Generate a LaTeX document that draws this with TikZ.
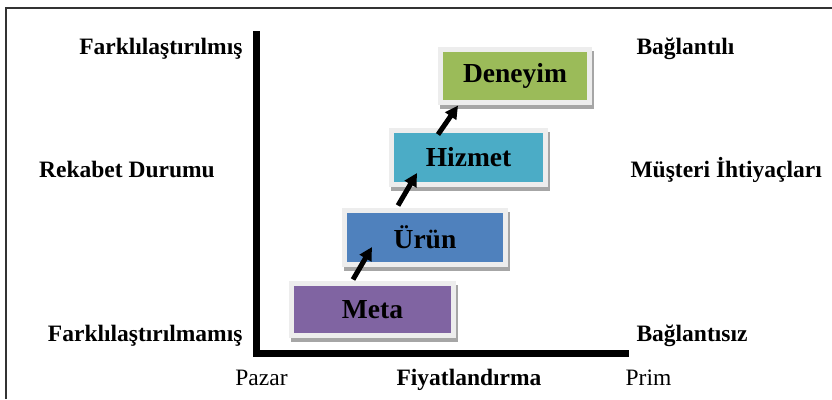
\documentclass[tikz,border=0pt]{standalone}
\usepackage{fontspec}
\setmainfont{Liberation Serif}
\usepackage{tikz}
\usetikzlibrary{positioning}
\usetikzlibrary{shadows}
\usetikzlibrary{calc}
\usetikzlibrary{arrows.meta}
\definecolor{metacol}{HTML}{8064A2}
\definecolor{uruncol}{HTML}{4F81BD}
\definecolor{hizmetcol}{HTML}{4BACC6}
\definecolor{deneyimcol}{HTML}{9BBB59}
\tikzset{
	every stage/.style={
		draw=black!7, line width=5pt, inner sep=0pt,
		font=\fontsize{27.5}{32}\selectfont\bfseries,
		general shadow={shadow xshift=2pt, shadow yshift=-4pt, draw=black!35, fill=black!35, line width=5pt}
	},
	stage/.style={
		every stage, fill=#1
	},
	stage arrow/.style={
		-{Triangle[length=13pt,width=13pt]}, line width=5pt
	},
	axis line/.style={
		line width=7pt, line join=miter
	},
	label text/.style={
		font=\fontsize{23.5}{28}\selectfont
	},
	bold label/.style={
		label text, font=\fontsize{23.5}{28}\selectfont\bfseries
	}
}

\begin{document}
\begin{tikzpicture}[x=1pt,y=-1pt]
\useasboundingbox (0,0) rectangle (832,399);
% frame on top and left
\draw[line width=1.5pt, black!80] (6,399) -- (6,8) -- (832,8);

% axes
\coordinate (ytop) at (256,31);
\coordinate (origin) at (256,353.5);
\coordinate (xend) at (629,353.5);
\draw[axis line] (ytop) -- (origin) -- (xend);

% stages
\node[stage=metacol, minimum width=162pt, minimum height=52pt] (meta) at (372.5,309.5) {Meta};
\node[stage=uruncol, minimum width=161pt, minimum height=54pt] (urun) at (425,237.5) {Ürün};
\node[stage=hizmetcol, minimum width=154pt, minimum height=54pt] (hizmet) at (468.5,157.5) {Hizmet};
\node[stage=deneyimcol, minimum width=149pt, minimum height=53pt] (deneyim) at (515,76) {Deneyim};

\draw[stage arrow] ($(meta.north)+(-19.5,-1.5)$) -- ($(urun.center)+(-53,9.5)$);
\draw[stage arrow] ($(urun.north)+(-27,-2.5)$) -- ($(hizmet.center)+(-51.5,15.5)$);
\draw[stage arrow] ($(hizmet.north)+(-30.5,6.5)$) -- ($(deneyim.south)+(-57,0.5)$);

% left labels
\node[bold label, anchor=base east] (farkli) at (246,54) {Farklılaştırılmış};
\node[bold label, anchor=base] (rekabet) at (127,177) {Rekabet Durumu};
\node[bold label, anchor=base east] (farksiz) at (246,341) {Farklılaştırılmamış};

% right labels
\node[bold label, anchor=base west] (bagli) at (633,54) {Bağlantılı};
\node[bold label, anchor=base west] (musteri) at (627,177) {Müşteri İhtiyaçları};
\node[bold label, anchor=base west] (bagsiz) at (633,341) {Bağlantısız};

% bottom labels
\node[label text, anchor=base] (pazar) at (261.5,385) {Pazar};
\node[bold label, anchor=base] (fiyat) at (469,385) {Fiyatlandırma};
\node[label text, anchor=base] (prim) at (648.5,385) {Prim};
\end{tikzpicture}
\end{document}
